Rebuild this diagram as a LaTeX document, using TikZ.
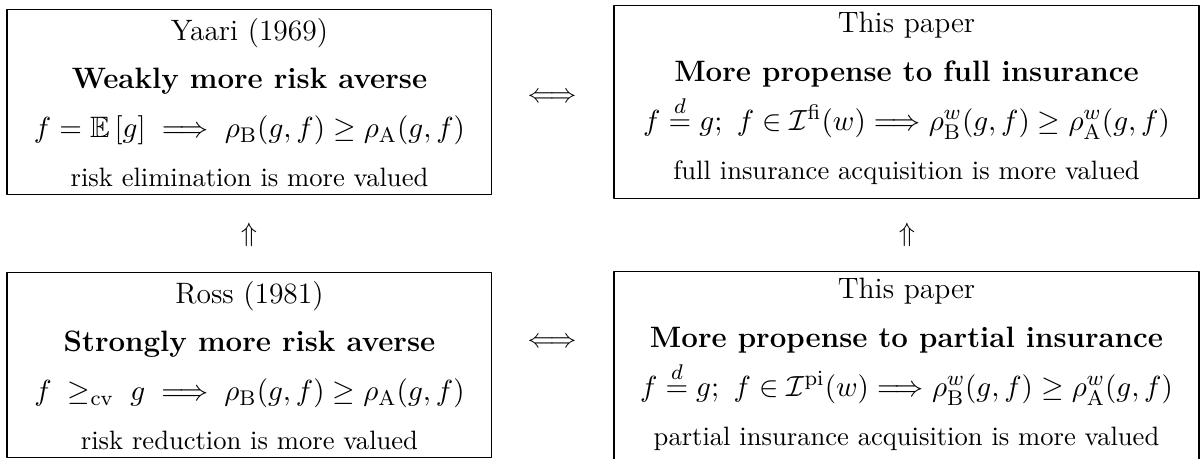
\documentclass[tikz,border=0pt]{standalone}
\usepackage{amsmath,amssymb}
\usepackage{tikz}

\newcommand{\boxnote}[1]{{\fontsize{10}{12}\selectfont #1}}

\begin{document}
\begin{tikzpicture}[line cap=round,line join=round,x=1.0cm,y=1.0cm,
    box/.style={draw,align=center,inner sep=0pt,font={\fontsize{11.1}{18.4}\selectfont}},
    leftbox/.style={box,minimum width=6.415cm,minimum height=2.447cm},
    rightbox/.style={box,minimum width=7.738cm,minimum height=2.553cm}]
      \useasboundingbox (0,0) rectangle (15.913,6.071);
      \clip (0,0) rectangle (15.913,6.071);

      % top row
      \node[leftbox] (yaari) at (3.300,4.716) {%
        Yaari (1969)\\
        \textbf{Weakly more risk averse}\\
        $f=\mathbb{E}\left[g\right]\implies\rho_{\mathrm{B}}(g,f)\geq\rho_{\mathrm{A}}(g,f)$\\
        \boxnote{risk elimination is more valued}};
      \node[rightbox] (fullins) at (11.991,4.716) {%
        This paper\\
        \textbf{More propense to full insurance}\\
        $f\overset{d}{=}g;\ f\in\mathcal{I}^{\mathrm{fi}}(w)\Longrightarrow\rho^w_{\mathrm{B}}(g,f)\geq\rho^w_{\mathrm{A}}(g,f)$\\
        \boxnote{full insurance acquisition is more valued}\rule[-5pt]{0pt}{5pt}};

      % bottom row
      \node[leftbox] (ross) at (3.300,1.237) {%
        Ross (1981)\\
        \textbf{Strongly more risk averse}\\
        $f\;\geq_{\mathrm{cv}}\;g\implies\rho_{\mathrm{B}}(g,f)\geq\rho_{\mathrm{A}}(g,f)$\\
        \boxnote{risk reduction is more valued}};
      \node[rightbox] (partins) at (11.991,1.197) {%
        This paper\\
        \textbf{More propense to partial insurance}\\
        $f\overset{d}{=}g;\ f\in\mathcal{I}^{\mathrm{pi}}(w)\Longrightarrow\rho^w_{\mathrm{B}}(g,f)\geq\rho^w_{\mathrm{A}}(g,f)$\\
        \boxnote{partial insurance acquisition is more valued}\rule[-5pt]{0pt}{5pt}};

      % equivalences and implications
      \node (eqtop) at (7.302,4.775) {$\Longleftrightarrow$};
      \node (eqbot) at (7.302,1.534) {$\Longleftrightarrow$};
      \node (upleft) at (3.294,2.963) {$\Uparrow$};
      \node (upright) at (11.997,2.963) {$\Uparrow$};
\end{tikzpicture}
\end{document}
